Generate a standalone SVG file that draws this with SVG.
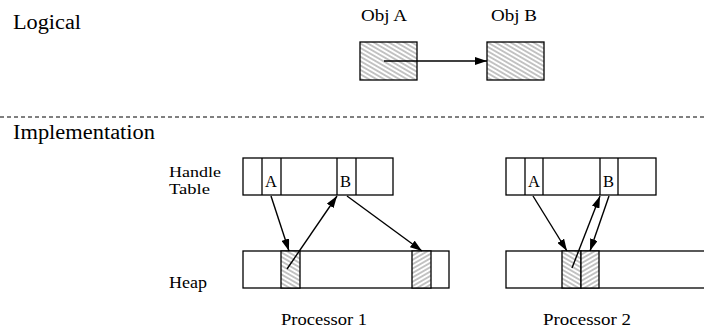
<svg xmlns="http://www.w3.org/2000/svg" width="704" height="333" viewBox="0 0 704 333" font-family="Liberation Serif, DejaVu Serif, serif">
  <style>
    .lbl { font-size: 16.5px; fill: #000; }
    .sm { font-size: 15px; }
    .head { font-size: 20px; fill: #000; }
    .box { fill: #fff; stroke: #000; stroke-width: 1.3; }
    .div { stroke: #000; stroke-width: 1.3; fill: none; }
    .hatchA { fill: url(#hatchBack); stroke: #000; stroke-width: 1.3; }
    .hatchF { fill: url(#hatchFwd); stroke: #000; stroke-width: 1.3; }
    .conn { stroke: #000; stroke-width: 1.4; fill: none; marker-end: url(#arrow); }
  </style>
  <defs>
    <pattern id="hatchBack" patternUnits="userSpaceOnUse" width="8" height="3.8" patternTransform="rotate(30)">
      <rect width="8" height="3.8" fill="#fff"/>
      <line x1="0" y1="1.9" x2="8" y2="1.9" stroke="#222" stroke-width="0.55"/>
    </pattern>
    <pattern id="hatchFwd" patternUnits="userSpaceOnUse" width="8" height="3.8" patternTransform="rotate(-30)">
      <rect width="8" height="3.8" fill="#fff"/>
      <line x1="0" y1="1.9" x2="8" y2="1.9" stroke="#222" stroke-width="0.55"/>
    </pattern>
    <marker id="arrow" viewBox="0 0 12 8" refX="12" refY="4" markerWidth="12" markerHeight="8" markerUnits="userSpaceOnUse" orient="auto">
      <path d="M0,0 L12,4 L0,8 Z" fill="#000"/>
    </marker>
  </defs>

  <!-- section headings and separator -->
  <text class="head" x="13" y="29" font-family="Liberation Serif" textLength="68" lengthAdjust="spacingAndGlyphs">Logical</text>
  <line x1="0" y1="117" x2="704" y2="117" stroke="#000" stroke-width="1" stroke-dasharray="4 3"/>
  <text class="head" x="13" y="139" font-family="Liberation Serif" textLength="142" lengthAdjust="spacingAndGlyphs">Implementation</text>

  <!-- logical view -->
  <g id="objA">
    <text class="lbl" x="361" y="21" font-family="Liberation Serif" textLength="46" lengthAdjust="spacingAndGlyphs">Obj A</text>
    <rect class="hatchA" x="360" y="42" width="57" height="38"/>
  </g>
  <g id="objB">
    <text class="lbl" x="491" y="21" font-family="Liberation Serif" textLength="46" lengthAdjust="spacingAndGlyphs">Obj B</text>
    <rect class="hatchA" x="487" y="42" width="57" height="38"/>
  </g>

  <!-- row labels -->
  <g id="rowLabels" font-family="Liberation Serif">
    <text class="lbl sm" x="169" y="177" textLength="52" lengthAdjust="spacingAndGlyphs">Handle</text>
    <text class="lbl sm" x="169" y="194" textLength="41" lengthAdjust="spacingAndGlyphs">Table</text>
    <text class="lbl" x="169" y="288" textLength="38" lengthAdjust="spacingAndGlyphs">Heap</text>
  </g>

  <!-- processor 1 -->
  <g id="p1Table" font-family="Liberation Serif">
    <rect class="box" x="243" y="158" width="150" height="37"/>
    <line class="div" x1="262" y1="158" x2="262" y2="195"/>
    <line class="div" x1="281" y1="158" x2="281" y2="195"/>
    <line class="div" x1="337" y1="158" x2="337" y2="195"/>
    <line class="div" x1="356" y1="158" x2="356" y2="195"/>
    <text class="lbl" x="265" y="187">A</text>
    <text class="lbl" x="340" y="187">B</text>
  </g>
  <g id="p1Heap">
    <rect class="box" x="243" y="251" width="206" height="37"/>
    <rect class="hatchA" x="281" y="251" width="19" height="37"/>
    <rect class="hatchF" x="412" y="251" width="19" height="37"/>
  </g>
  <text id="p1Label" class="lbl" x="281" y="325" font-family="Liberation Serif" textLength="86" lengthAdjust="spacingAndGlyphs">Processor 1</text>

  <!-- processor 2 -->
  <g id="p2Table" font-family="Liberation Serif">
    <rect class="box" x="506" y="158" width="150" height="37"/>
    <line class="div" x1="525" y1="158" x2="525" y2="195"/>
    <line class="div" x1="543" y1="158" x2="543" y2="195"/>
    <line class="div" x1="600" y1="158" x2="600" y2="195"/>
    <line class="div" x1="618" y1="158" x2="618" y2="195"/>
    <text class="lbl" x="528" y="187">A</text>
    <text class="lbl" x="603" y="187">B</text>
  </g>
  <g id="p2Heap">
    <rect class="box" x="506" y="251" width="220" height="37"/>
    <rect class="hatchA" x="562" y="251" width="19" height="37"/>
    <rect class="hatchF" x="581" y="251" width="18" height="37"/>
  </g>
  <text id="p2Label" class="lbl" x="543" y="325" font-family="Liberation Serif" textLength="88" lengthAdjust="spacingAndGlyphs">Processor 2</text>

  <!-- connectors -->
  <g id="connectors">
    <line class="conn" x1="384" y1="61" x2="487" y2="61"/>
    <line class="conn" x1="271" y1="196" x2="289" y2="251"/>
    <line class="conn" x1="287" y1="269" x2="337" y2="196"/>
    <line class="conn" x1="347" y1="196" x2="422" y2="251"/>
    <line class="conn" x1="533" y1="196" x2="567" y2="251"/>
    <line class="conn" x1="572" y1="268" x2="600" y2="196"/>
    <line class="conn" x1="609" y1="196" x2="590" y2="251"/>
  </g>
</svg>
